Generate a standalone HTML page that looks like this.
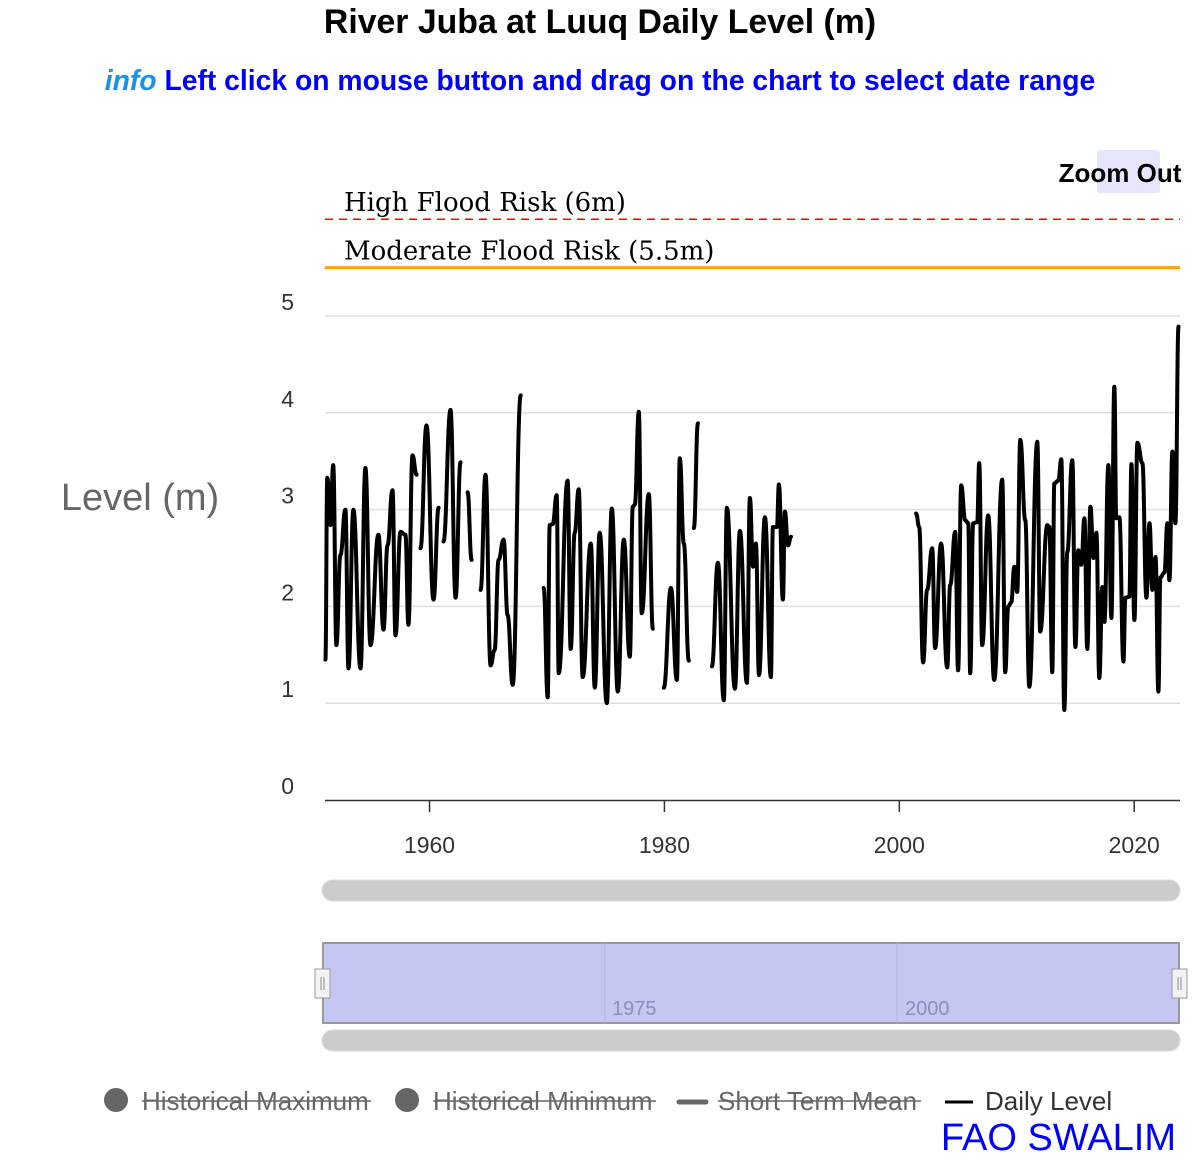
<!DOCTYPE html>
<html><head><meta charset="utf-8"><style>
body{margin:0;background:#fff;width:1200px;height:1160px;overflow:hidden;font-family:"Liberation Sans",sans-serif}
svg{display:block}
</style></head><body>
<svg id="chart" width="1200" height="1160" xmlns="http://www.w3.org/2000/svg" font-family="Liberation Sans, sans-serif">
<text x="600" y="33" text-anchor="middle" font-size="33.8" font-weight="bold" fill="#000">River Juba at Luuq Daily Level (m)</text>
<text x="600" y="90" text-anchor="middle" font-size="28.3" font-weight="bold" fill="#0000ff"><tspan font-style="italic" fill="#1a90e8">info</tspan> Left click on mouse button and drag on the chart to select date range</text>
<g id="grid"></g>
<g id="yticks"></g>
<text x="140" y="510" text-anchor="middle" font-size="38" fill="#666">Level (m)</text>
<g id="plotlines"></g>
<g id="series"></g>
<line x1="325" y1="800.5" x2="1180" y2="800.5" stroke="#333" stroke-width="1.5"/>
<g id="xticks"></g>
<rect x="1097" y="150" width="63" height="43" rx="3" fill="#e6e6ff"/>
<text x="1120" y="182" text-anchor="middle" font-size="26" font-weight="bold" fill="#000">Zoom Out</text>
<rect x="322" y="880" width="858" height="21" rx="10.5" fill="#cccccc" stroke="#ddd"/>
<rect x="323" y="943" width="856" height="80" fill="#c6c6f3" stroke="#999" stroke-width="2"/>
<line x1="605" y1="943" x2="605" y2="1023" stroke="#b4b4e2"/>
<line x1="897" y1="943" x2="897" y2="1023" stroke="#b4b4e2"/>
<text x="612" y="1015" font-size="20" fill="#8e8ebe">1975</text>
<text x="905" y="1015" font-size="20" fill="#8e8ebe">2000</text>
<g><rect x="315" y="969" width="15" height="29" fill="#f2f2f2" stroke="#999"/><line x1="321" y1="977" x2="321" y2="990" stroke="#888"/><line x1="324" y1="977" x2="324" y2="990" stroke="#888"/></g>
<g><rect x="1172" y="969" width="15" height="29" fill="#f2f2f2" stroke="#999"/><line x1="1178" y1="977" x2="1178" y2="990" stroke="#888"/><line x1="1181" y1="977" x2="1181" y2="990" stroke="#888"/></g>
<rect x="322" y="1030" width="858" height="21" rx="10.5" fill="#cccccc" stroke="#ddd"/>
<g font-size="26" fill="#666">
<g><circle cx="116" cy="1100" r="12" fill="#666"/><text x="142" y="1110">Historical Maximum</text><line x1="142" y1="1101" x2="371" y2="1101" stroke="#666" stroke-width="1.5"/></g>
<g><circle cx="407" cy="1100" r="12" fill="#666"/><text x="433" y="1110">Historical Minimum</text><line x1="433" y1="1101" x2="656" y2="1101" stroke="#666" stroke-width="1.5"/></g>
<g><line x1="679" y1="1102" x2="706" y2="1102" stroke="#666" stroke-width="5" stroke-linecap="round"/><text x="718" y="1110">Short Term Mean</text><line x1="718" y1="1101" x2="921" y2="1101" stroke="#666" stroke-width="1.5"/></g>
<g><line x1="945" y1="1102" x2="973" y2="1102" stroke="#000" stroke-width="3"/><text x="985" y="1110" fill="#333">Daily Level</text></g>
</g>
<text x="1176" y="1150" text-anchor="end" font-size="38" fill="#0000ff">FAO SWALIM</text>
</svg>
<script>
const yTicks=[0,1,2,3,4,5];
const xTicks=[1960,1980,2000,2020];
const floodLabels=["High Flood Risk (6m)","Moderate Flood Risk (5.5m)"];
const floodValues=[6,5.5];
const years=[1951.13,1951.3,1951.56,1951.8,1952.07,1952.41,1952.84,1953.1,1953.52,1954.12,1954.54,1954.97,1955.65,1956.08,1956.42,1956.85,1957.1,1957.53,1957.95,1958.2,1958.55,1958.9,null,
1959.23,1959.74,1960.34,1960.77,null,1961.19,1961.79,1962.22,1962.64,null,1963.24,1963.58,null,
1964.35,1964.77,1965.2,1965.54,1965.88,1966.31,1966.65,1967.08,1967.76,null,
1969.72,1970.06,1970.23,1970.49,1970.83,1971.0,1971.76,1972.02,1972.36,1972.7,1973.04,1973.73,1974.07,1974.49,1975.09,1975.52,1976.03,1976.54,1977.05,1977.31,1977.48,1977.82,1978.07,1978.67,1979.01,null,
1979.95,1980.55,1981.06,1981.31,1981.65,1982.08,null,1982.51,1982.85,null,
1984.04,1984.55,1985.06,1985.32,1986.0,1986.43,1987.02,1987.28,1987.54,1987.79,1988.05,1988.56,1989.07,1989.24,1989.58,1989.75,1990.09,1990.26,1990.52,1990.78,null,
2001.43,2001.69,2002.03,2002.37,2002.8,2003.05,2003.56,2004.08,2004.33,2004.76,2005.01,2005.27,2005.61,2005.87,2006.04,2006.29,2006.63,2006.8,2007.06,2007.57,2008.08,2008.76,2009.02,2009.28,2009.53,2009.79,2010.04,2010.3,2010.73,2011.07,2011.75,2012.0,2012.6,2012.77,2013.03,2013.2,2013.54,2013.79,2014.05,2014.3,2014.73,2014.99,2015.24,2015.5,2015.76,2016.01,2016.27,2016.53,2016.78,2017.03,2017.29,2017.46,2017.8,2018.06,2018.31,2018.48,2018.74,2019.08,2019.25,2019.59,2019.76,2020.02,2020.27,2020.7,2021.04,2021.3,2021.55,2021.81,2022.06,2022.23,2022.57,2022.83,2023.0,2023.25,2023.51,2023.77];
const levels=[1.45,3.33,2.84,3.46,1.60,2.53,3.00,1.36,3.00,1.36,3.43,1.60,2.74,1.76,2.63,3.20,1.70,2.77,2.74,1.81,3.56,3.36,null,
2.60,3.87,2.07,3.02,null,2.67,4.03,2.09,3.49,null,3.18,2.48,null,
2.17,3.36,1.39,1.55,2.48,2.69,1.91,1.19,4.18,null,
2.19,1.06,2.84,2.85,3.15,1.31,3.30,1.56,2.76,3.21,1.27,2.65,1.16,2.76,1.00,3.01,1.12,2.69,1.48,3.03,3.05,4.01,1.93,3.16,1.77,null,
1.16,2.19,1.24,3.53,2.65,1.44,null,2.81,3.89,null,
1.38,2.45,1.03,3.02,1.15,2.78,1.21,3.12,2.41,2.65,1.29,2.92,1.27,2.82,2.82,3.26,2.07,2.98,2.63,2.72,null,
2.96,2.82,1.42,2.17,2.60,1.57,2.65,1.37,2.22,2.77,1.34,3.25,2.89,2.86,1.31,2.86,2.87,3.48,1.60,2.94,1.24,3.31,1.32,2.00,2.04,2.41,2.15,3.72,2.89,1.17,3.70,1.74,2.84,2.82,1.32,3.27,3.30,3.52,0.93,2.56,3.51,1.58,2.58,2.43,2.91,1.56,3.03,2.50,2.76,1.26,2.20,1.84,3.46,1.88,4.27,2.91,2.92,1.43,2.09,2.10,3.47,1.86,3.69,3.48,2.09,2.86,2.17,2.51,1.12,2.30,2.35,2.86,2.27,3.60,2.86,4.89];
const NS='http://www.w3.org/2000/svg';
const X0=325,X1=1180,Y0=800,YPER=96.8,XMIN=1951.1,XMAX=2023.9;
function xs(v){return X0+(v-XMIN)/(XMAX-XMIN)*(X1-X0);}
function ys(v){return Y0-v*YPER;}
function mk(tag,attrs,parent){const e=document.createElementNS(NS,tag);for(const k in attrs)e.setAttribute(k,attrs[k]);parent.appendChild(e);return e;}
const grid=document.getElementById('grid'),yt=document.getElementById('yticks');
yTicks.forEach(t=>{
  if(t>0){const l=mk('line',{x1:X0,x2:X1,y1:ys(t),y2:ys(t),stroke:'#e0e0e0','stroke-width':1.5},grid);
  
  }
  const tx=mk('text',{x:294,y:ys(t)-6,'text-anchor':'end','font-size':23,fill:'#333'},yt);tx.textContent=t;
  
  
});
const xt=document.getElementById('xticks');
xTicks.forEach(t=>{
  const l=mk('line',{x1:xs(t),x2:xs(t),y1:800,y2:812,stroke:'#333','stroke-width':1.5},xt);
  
  
  const tx=mk('text',{x:xs(t),y:853,'text-anchor':'middle','font-size':23,fill:'#333'},xt);tx.textContent=t;
  
  
});
const pl=document.getElementById('plotlines');
floodValues.forEach((v,i)=>{
  const l=mk('line',{x1:X0,x2:X1,y1:ys(v),y2:ys(v),stroke:i===0?'#ff0000':'#ffa500','stroke-width':i===0?1.5:3,'stroke-dasharray':i===0?'8,6':'none'},pl);
  
  
  const tx=mk('text',{x:344,y:ys(v)-8,'font-size':26,fill:'#000','font-family':'DejaVu Serif, serif'},pl);tx.textContent=floodLabels[i];
  
  
});
const sg=document.getElementById('series');
let d='',prev=null;
years.forEach((yv,i)=>{const lv=levels[i];
  if(yv===null||lv===null){prev=null;return;}
  const px=xs(yv),py=ys(lv);
  if(!prev){d+='M'+px.toFixed(1)+','+py.toFixed(1)+' ';}
  else{const dx=(px-prev[0])/2.2;
    d+='C'+(prev[0]+dx).toFixed(1)+','+prev[1].toFixed(1)+' '+(px-dx).toFixed(1)+','+py.toFixed(1)+' '+px.toFixed(1)+','+py.toFixed(1)+' ';}
  prev=[px,py];});
const p=mk('path',{d:d,fill:'none',stroke:'#000','stroke-width':4,'stroke-linejoin':'round','stroke-linecap':'round'},sg);


</script>
</body></html>
